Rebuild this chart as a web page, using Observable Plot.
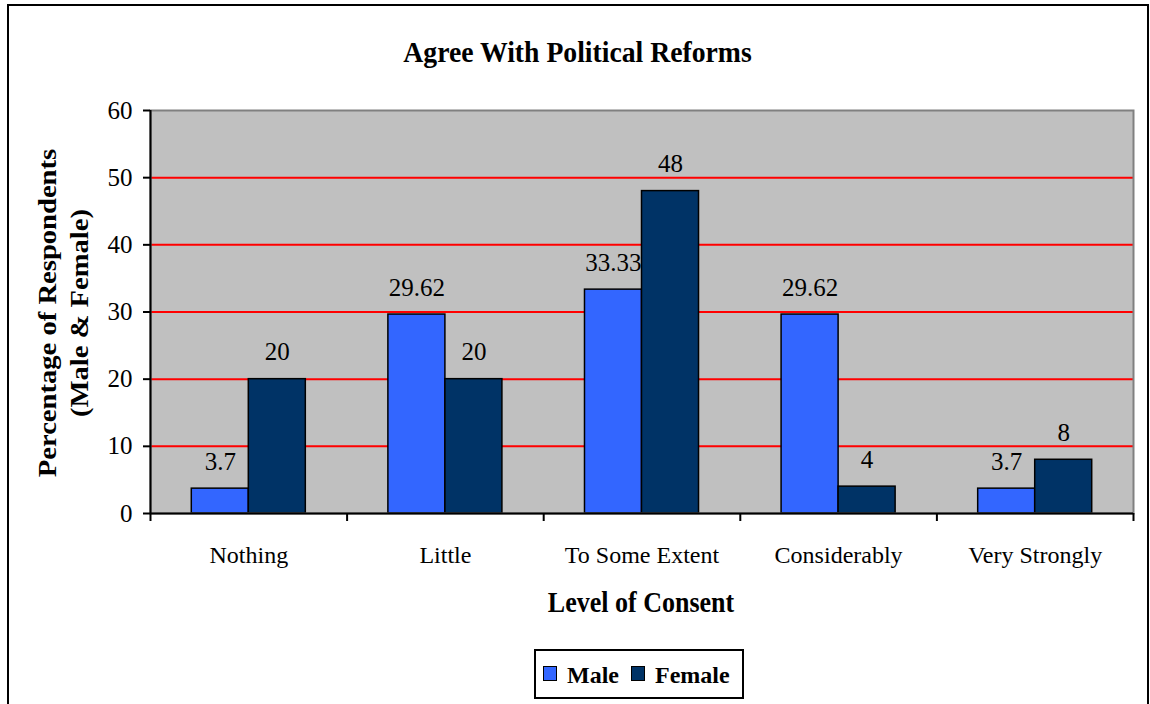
<!DOCTYPE html>
<html>
<head>
<meta charset="utf-8">
<script src="https://cdn.jsdelivr.net/npm/d3@7"></script>
<script src="https://cdn.jsdelivr.net/npm/@observablehq/plot@0.6"></script>
<style>
  body { margin: 0; background: #fff; }
  #wrap { position: relative; width: 1150px; height: 704px; overflow: hidden; font-family: "Liberation Serif", "Times New Roman", serif; color: #000; }
  #outer { position: absolute; left: 7px; top: 4px; width: 1138px; height: 760px; border: 2px solid #000; box-sizing: content-box; }
  #chart { position: absolute; left: 0; top: 0; }
  .title { position: absolute; left: 577.5px; top: 52px; transform: translate(-50%, -50%) scale(1, 1.1); font-weight: bold; font-size: 27.7px; white-space: nowrap; }
  .xtitle { position: absolute; left: 641px; top: 603px; transform: translate(-50%, -50%) scale(1, 1.1); font-weight: bold; font-size: 26px; white-space: nowrap; }
  .ytitle { position: absolute; left: 64px; top: 313px; transform: translate(-50%, -50%) scale(1, 1.1) rotate(-90deg); font-weight: bold; font-size: 26px; line-height: 32px; text-align: center; white-space: nowrap; }
  #legend { position: absolute; left: 534px; top: 649px; width: 206px; height: 46px; border: 2px solid #000; background: #fff; }
  .sw { position: absolute; top: 15px; width: 12px; height: 13px; border: 1.5px solid #000; }
  .lt { position: absolute; top: 9px; font-weight: bold; font-size: 24px; line-height: 30px; white-space: nowrap; }
</style>
</head>
<body>
<div id="wrap">
  <div id="outer"></div>
  <div id="chart"></div>
  <div class="title">Agree With Political Reforms</div>
  <div class="ytitle">Percentage of Respondents<br>(Male &amp; Female)</div>
  <div class="xtitle">Level of Consent</div>
  <div id="legend"></div>
</div>
<script>
// Survey answers: share of respondents per level of consent, by sex
const categories = ["Nothing", "Little", "To Some Extent", "Considerably", "Very Strongly"];
const maleValues = [3.7, 29.62, 33.33, 29.62, 3.7];
const femaleValues = [20, 20, 48, 4, 8];
const seriesNames = ["Male", "Female"];
const seriesColors = ["#3366FF", "#003366"];
const yTicks = [0, 10, 20, 30, 40, 50, 60];
const gridValues = [10, 20, 30, 40, 50];

const serif = "'Liberation Serif', 'Times New Roman', serif";

// One row per bar; i is the category slot, s the series slot within it
const rows = categories.flatMap((cat, i) => [
  {cat, i, s: 0, sex: seriesNames[0], value: maleValues[i]},
  {cat, i, s: 1, sex: seriesNames[1], value: femaleValues[i]}
]);

// Each category occupies one unit on x; the bar pair fills its middle 58%
const groupStart = 0.21, barW = 0.29;
const bx1 = d => d.i + groupStart + d.s * barW;
const bx2 = d => bx1(d) + barW;
const bxm = d => bx1(d) + barW / 2;

const chart = Plot.plot({
  width: 1150,
  height: 704,
  marginLeft: 150,
  marginRight: 17,
  marginTop: 110,
  marginBottom: 191,
  style: {
    fontFamily: serif,
    fontSize: "24px",
    background: "transparent",
    color: "#000",
    overflow: "visible"
  },
  x: {type: "linear", domain: [0, categories.length]},
  y: {domain: [0, 60]},
  color: {domain: seriesNames, range: seriesColors},
  marks: [
    Plot.frame({fill: "#C0C0C0", stroke: null}),
    Plot.ruleY(gridValues, {stroke: "#FF0000", strokeWidth: 2}),
    Plot.rectY(rows, {x1: bx1, x2: bx2, y: "value", fill: "sex", stroke: "#000", strokeWidth: 1.5}),
    Plot.text(rows, {x: bxm, y: "value", text: d => String(d.value), dy: -27, fontSize: 25, fontFamily: serif, fill: "#000"}),
    Plot.frame({stroke: "#808080", strokeWidth: 2}),
    Plot.ruleX([0], {stroke: "#000", strokeWidth: 2}),
    Plot.ruleY([0], {stroke: "#000", strokeWidth: 2}),
    Plot.axisY({ticks: yTicks, tickSize: 7, tickPadding: 11, fontSize: 25, fontFamily: serif, strokeWidth: 2, label: null}),
    Plot.axisX({ticks: d3.range(categories.length + 1), tickSize: 8, strokeWidth: 2, tickFormat: () => "", label: null}),
    Plot.axisX({ticks: categories.map((c, i) => i + 0.5), tickSize: 0, tickPadding: 32, fontSize: 24, fontFamily: serif,
                tickFormat: d => categories[Math.floor(d)], label: null})
  ]
});
document.getElementById("chart").appendChild(chart);

// Legend: swatch + bold name for each series
const legend = document.getElementById("legend");
const swatchLeft = [7, 95];
const textLeft = [31, 119];
seriesNames.forEach((name, k) => {
  const sw = document.createElement("div");
  sw.className = "sw";
  sw.style.left = swatchLeft[k] + "px";
  sw.style.background = seriesColors[k];
  legend.appendChild(sw);
  const t = document.createElement("div");
  t.className = "lt";
  t.style.left = textLeft[k] + "px";
  t.textContent = name;
  legend.appendChild(t);
});
</script>
</body>
</html>
